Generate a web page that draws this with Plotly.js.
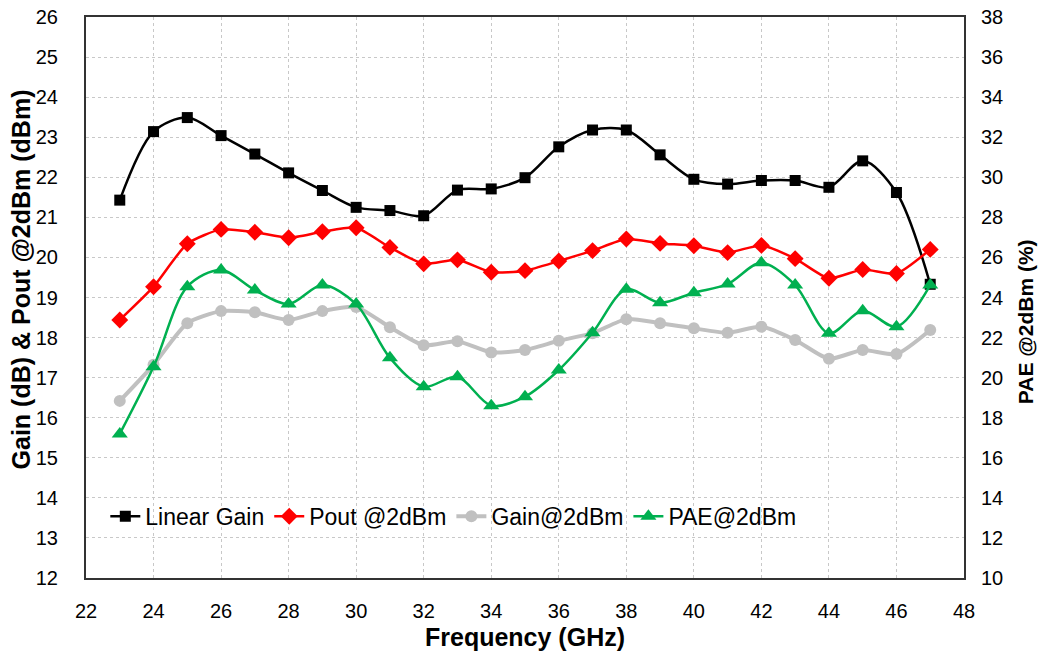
<!DOCTYPE html>
<html>
<head>
<meta charset="utf-8">
<script src="https://cdn.plot.ly/plotly-3.0.1.min.js"></script>
<style>html,body{margin:0;padding:0;background:#fff;}#chart{width:1041px;height:653px;}</style>
</head>
<body>
<div id="chart"></div>
<script>
const freq = [23,24,25,26,27,28,29,30,31,32,33,34,35,36,37,38,39,40,41,42,43,44,45,46,47];
const linearGain = [21.43,23.14,23.49,23.04,22.58,22.11,21.67,21.25,21.17,21.04,21.68,21.71,21.99,22.76,23.18,23.18,22.56,21.95,21.83,21.92,21.92,21.75,22.41,21.62,19.33];
const pout = [18.44,19.27,20.34,20.70,20.63,20.49,20.64,20.74,20.25,19.84,19.94,19.63,19.67,19.91,20.17,20.46,20.35,20.29,20.12,20.30,19.97,19.48,19.70,19.60,20.20];
const gain2 = [16.42,17.32,18.36,18.66,18.63,18.44,18.66,18.76,18.26,17.81,17.91,17.63,17.69,17.92,18.11,18.46,18.36,18.23,18.12,18.27,17.94,17.47,17.69,17.59,18.19];
const pae = [17.19,20.54,24.54,25.37,24.37,23.67,24.62,23.67,20.99,19.55,20.04,18.60,19.05,20.38,22.24,24.41,23.74,24.24,24.67,25.73,24.62,22.21,23.34,22.54,24.62];
const names = ["Linear Gain","Pout @2dBm","Gain@2dBm","PAE@2dBm"];
const xTicks = [22,24,26,28,30,32,34,36,38,40,42,44,46,48];
const titles = ["Frequency (GHz)","Gain (dB) & Pout @2dBm (dBm)","PAE @2dBm (%)"];

const traces = [
  {x:freq,y:linearGain,name:names[0],mode:'lines+markers',line:{color:'#000000',width:2.5,shape:'spline',smoothing:0.9},marker:{symbol:'square',size:11,color:'#000000'}},
  {x:freq,y:pout,name:names[1],mode:'lines+markers',line:{color:'#FF0000',width:2.5,shape:'spline',smoothing:0.6},marker:{symbol:'diamond',size:13,color:'#FF0000'}},
  {x:freq,y:gain2,name:names[2],mode:'lines+markers',line:{color:'#C0C0C0',width:4,shape:'spline',smoothing:0.6},marker:{symbol:'circle',size:12,color:'#C0C0C0'}},
  {x:freq,y:pae,name:names[3],yaxis:'y2',mode:'lines+markers',line:{color:'#00B050',width:2.5,shape:'spline',smoothing:0.9},marker:{symbol:'triangle-up',size:14,color:'#00B050'}}
];

const fam = 'Liberation Sans, Arial, sans-serif';
const tickFont = {family:fam,size:20,color:'#000'};

const layout = {
  width:1041,height:653,
  margin:{l:86,r:77,t:17,b:75},
  paper_bgcolor:'#fff',plot_bgcolor:'#fff',
  showlegend:true,
  legend:{orientation:'h',x:0.022,y:0.11,xanchor:'left',yanchor:'middle',bgcolor:'rgba(0,0,0,0)',font:{family:fam,size:23,color:'#000'},itemwidth:30,tracegroupgap:0},
  xaxis:{range:[22,48],tickvals:xTicks,ticktext:xTicks.map(String),showgrid:true,gridcolor:'#c8c8c8',griddash:'dot',gridwidth:1,
    showline:true,linecolor:'#333',linewidth:2,mirror:true,zeroline:false,ticks:'',ticklabelstandoff:14,tickfont:tickFont},
  yaxis:{range:[12,26],dtick:1,showgrid:true,gridcolor:'#c8c8c8',griddash:'dot',gridwidth:1,
    showline:true,linecolor:'#333',linewidth:2,mirror:true,zeroline:false,ticks:'',ticklabelstandoff:22,tickfont:tickFont},
  yaxis2:{range:[10,38],dtick:2,overlaying:'y',side:'right',showgrid:false,showline:false,zeroline:false,ticks:'',ticklabelstandoff:16,tickfont:tickFont},
  annotations:[
    {text:titles[0],xref:'paper',yref:'paper',x:0.5,y:-0.105,xanchor:'center',yanchor:'middle',showarrow:false,font:{family:fam,size:25,color:'#000',weight:'bold'}},
    {text:titles[1],xref:'paper',yref:'paper',x:-0.0735,y:0.533,xanchor:'center',yanchor:'middle',textangle:-90,showarrow:false,font:{family:fam,size:25,color:'#000',weight:'bold'}},
    {text:titles[2],xref:'paper',yref:'paper',x:1.0695,y:0.456,xanchor:'center',yanchor:'middle',textangle:-90,showarrow:false,font:{family:fam,size:21,color:'#000',weight:'bold'}}
  ]
};

Plotly.newPlot('chart',traces,layout,{displayModeBar:false,staticPlot:true});
</script>
</body>
</html>
